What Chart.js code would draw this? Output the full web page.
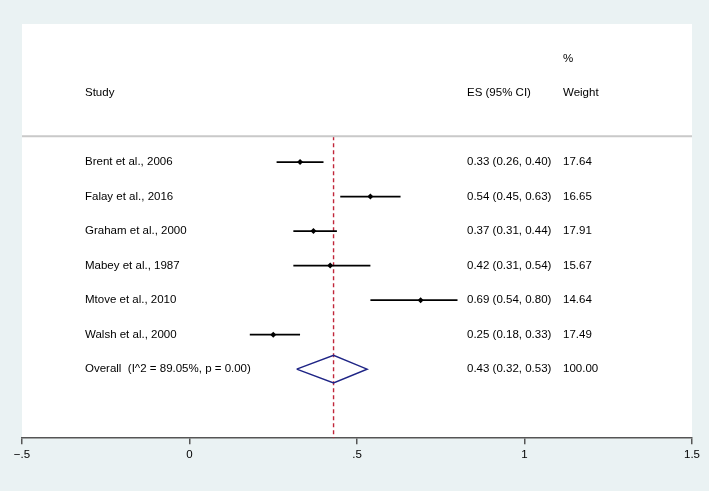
<!DOCTYPE html>
<html lang="en">
<head>
    <meta charset="UTF-8">
    <title>Forest plot</title>
    <script src="https://cdn.jsdelivr.net/npm/chart.js"></script>
</head>
<body style="margin:0;background:#eaf2f3;">
    <div style="position:relative;width:709px;height:491px;">
        <canvas id="forest"></canvas>
    </div>
    <script>
        // study data
        const studies = ['Brent et al., 2006', 'Falay et al., 2016', 'Graham et al., 2000', 'Mabey et al., 1987', 'Mtove et al., 2010', 'Walsh et al., 2000'];
        const es = [0.33, 0.54, 0.37, 0.42, 0.69, 0.25];
        const lo = [0.26, 0.45, 0.31, 0.31, 0.54, 0.18];
        const hi = [0.40, 0.63, 0.44, 0.54, 0.80, 0.33];
        const weights = ['17.64', '16.65', '17.91', '15.67', '14.64', '17.49'];

        const overallLabel = 'Overall  (I^2 = 89.05%, p = 0.00)';
        const overallEs = 0.43, overallLo = 0.32, overallHi = 0.53;
        const overallWeight = '100.00';

        const xTicks = [-0.5, 0, 0.5, 1, 1.5];
        const xTickLabels = ['\u2212.5', '0', '.5', '1', '1.5'];

        const overallRow = studies.length + 1;
        const font = '11.5px "Liberation Sans", Arial, sans-serif';

        const fmt = v => v.toFixed(2);

        // one line per confidence interval
        const ciSets = studies.map((s, i) => ({
            type: 'line',
            data: [{ x: lo[i], y: i + 1 }, { x: hi[i], y: i + 1 }],
            borderColor: '#000',
            borderWidth: 1.7,
            pointRadius: 0
        }));

        const datasets = [
            // header separator
            {
                type: 'line',
                data: [{ x: -0.5, y: 0.25 }, { x: 1.5, y: 0.25 }],
                borderColor: '#c9c9c9',
                borderWidth: 2,
                pointRadius: 0
            },
            ...ciSets,
            {
                type: 'scatter',
                data: es.map((v, i) => ({ x: v, y: i + 1 })),
                pointStyle: 'rectRot',
                pointRadius: 3,
                backgroundColor: '#000',
                borderColor: '#000',
                borderWidth: 0
            },
            // pooled estimate diamond
            {
                type: 'line',
                data: [
                    { x: overallLo, y: overallRow },
                    { x: overallEs, y: overallRow - 0.4 },
                    { x: overallHi, y: overallRow },
                    { x: overallEs, y: overallRow + 0.4 },
                    { x: overallLo, y: overallRow }
                ],
                borderColor: '#1f2586',
                borderWidth: 1.5,
                pointRadius: 0,
                tension: 0
            },
            // overall effect reference line
            {
                type: 'line',
                data: [{ x: overallEs, y: 0.25 }, { x: overallEs, y: 9 }],
                borderColor: '#c0263a',
                borderWidth: 1.4,
                borderDash: [4, 3],
                pointRadius: 0
            }
        ];

        const tablePlugin = {
            id: 'table',
            beforeDraw(chart) {
                const { ctx, chartArea } = chart;
                ctx.save();
                ctx.fillStyle = '#fff';
                ctx.fillRect(chartArea.left, chartArea.top, chartArea.right - chartArea.left, chartArea.bottom - chartArea.top);
                ctx.restore();
            },
            afterDraw(chart) {
                const { ctx } = chart;
                const y = chart.scales.y;
                ctx.save();
                ctx.font = font;
                ctx.fillStyle = '#000';
                ctx.textBaseline = 'middle';
                ctx.fillText('%', 563, y.getPixelForValue(-2));
                ctx.fillText('Study', 85, y.getPixelForValue(-1));
                ctx.fillText('ES (95% CI)', 467, y.getPixelForValue(-1));
                ctx.fillText('Weight', 563, y.getPixelForValue(-1));
                studies.forEach((s, i) => {
                    const py = y.getPixelForValue(i + 1);
                    ctx.fillText(s, 85, py);
                    ctx.fillText(fmt(es[i]) + ' (' + fmt(lo[i]) + ', ' + fmt(hi[i]) + ')', 467, py);
                    ctx.fillText(weights[i], 563, py);
                });
                const oy = y.getPixelForValue(overallRow);
                ctx.fillText(overallLabel, 85, oy);
                ctx.fillText(fmt(overallEs) + ' (' + fmt(overallLo) + ', ' + fmt(overallHi) + ')', 467, oy);
                ctx.fillText(overallWeight, 563, oy);
                ctx.restore();
            }
        };

        new Chart(document.getElementById('forest'), {
            data: { datasets },
            plugins: [tablePlugin],
            options: {
                responsive: true,
                maintainAspectRatio: false,
                animation: false,
                events: [],
                layout: { padding: { left: 22, right: 17, top: 24, bottom: 25 } },
                plugins: { legend: { display: false }, tooltip: { enabled: false } },
                scales: {
                    x: {
                        type: 'linear',
                        min: -0.5,
                        max: 1.5,
                        afterBuildTicks: axis => { axis.ticks = xTicks.map(v => ({ value: v })); },
                        ticks: {
                            color: '#000',
                            padding: 4,
                            maxRotation: 0,
                            font: { family: '"Liberation Sans", Arial, sans-serif', size: 11.5 },
                            callback: v => xTickLabels[xTicks.indexOf(v)]
                        },
                        grid: { drawOnChartArea: false, drawTicks: true, tickLength: 6, color: '#555', lineWidth: 1.5 },
                        border: { display: true, color: '#555', width: 1.5 }
                    },
                    y: {
                        type: 'linear',
                        reverse: true,
                        min: -3,
                        max: 9,
                        display: false
                    }
                }
            }
        });
    </script>
</body>
</html>
